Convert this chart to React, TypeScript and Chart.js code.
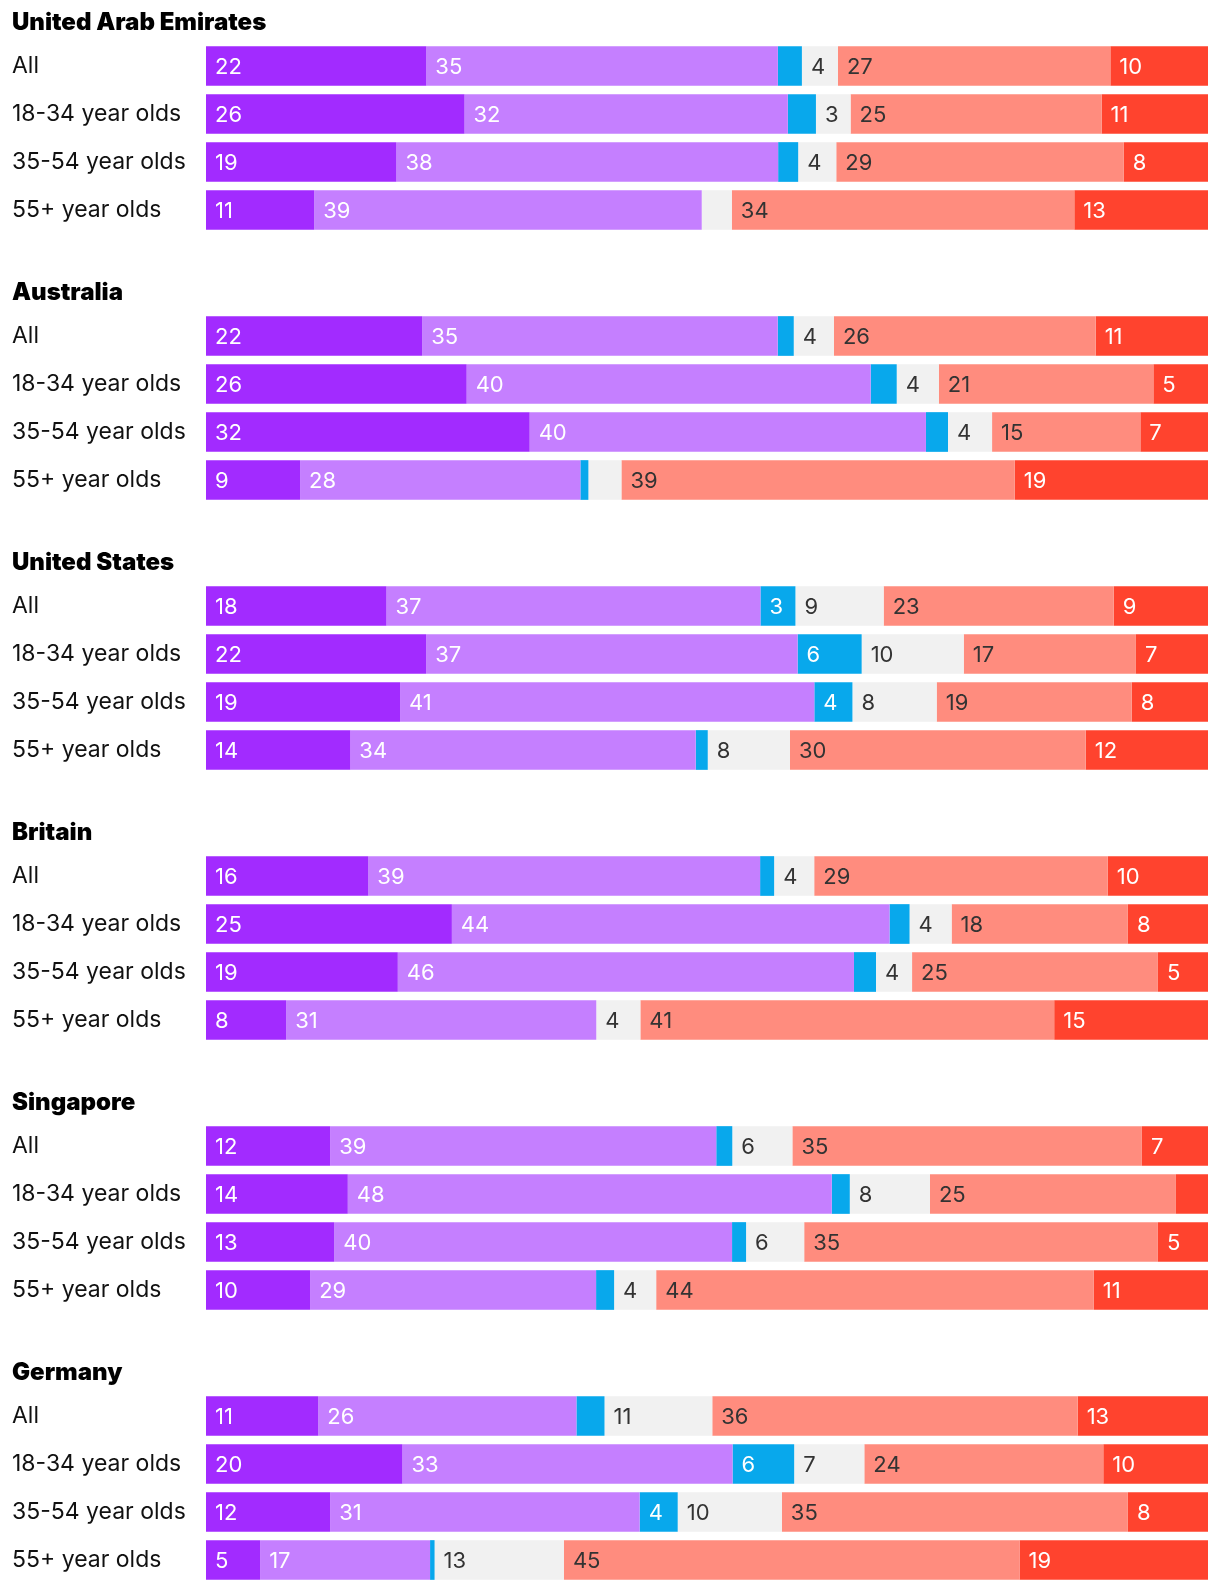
import React, { useEffect, useRef } from "react";
import { Chart, registerables } from "chart.js";

Chart.register(...registerables);

// ---- Data (percent shares) ----
const countries = [
  "United Arab Emirates",
  "Australia",
  "United States",
  "Britain",
  "Singapore",
  "Germany",
];

const ageGroups = ["All", "18-34 year olds", "35-54 year olds", "55+ year olds"];

// 24 values each: 4 age groups per country, countries in the order above
const darkPurpleValues = [
  22.0, 25.75, 19.0, 10.8,
  21.55, 26.0, 32.3, 9.4,
  18.0, 22.0, 19.35, 14.4,
  16.2, 24.55, 19.15, 8.0,
  12.4, 14.15, 12.8, 10.4,
  11.2, 19.6, 12.4, 5.4,
];
const lightPurpleValues = [
  35.1, 32.2, 38.1, 38.7,
  35.45, 40.3, 39.55, 28.0,
  37.3, 37.1, 41.3, 34.45,
  39.1, 43.7, 45.55, 30.95,
  38.55, 48.3, 39.7, 28.55,
  25.75, 32.95, 30.9, 16.95,
];
const blueValues = [
  2.4, 2.8, 2.0, 0,
  1.6, 2.6, 2.2, 0.8,
  3.49, 6.4, 3.8, 1.2,
  1.4, 2.0, 2.2, 0,
  1.6, 1.8, 1.4, 1.8,
  2.8, 6.15, 3.8, 0.45,
];
const grayValues = [
  3.6, 3.45, 3.8, 3.0,
  4.0, 4.2, 4.4, 3.3,
  8.8, 10.2, 8.4, 8.2,
  4.0, 4.2, 3.6, 4.4,
  6.0, 8.0, 5.8, 4.2,
  10.75, 7.0, 10.4, 12.9,
];
const salmonValues = [
  27.2, 25.0, 28.7, 34.2,
  26.1, 21.4, 14.8, 39.3,
  22.95, 17.2, 19.45, 29.5,
  29.3, 17.6, 24.55, 41.3,
  34.9, 24.55, 35.3, 43.7,
  36.45, 23.85, 34.55, 45.45,
];
const redValues = [
  9.75, 10.6, 8.4, 13.35,
  11.2, 5.45, 6.75, 19.3,
  9.4, 7.2, 7.6, 12.2,
  10.0, 8.0, 5.0, 15.35,
  6.6, 3.2, 5.0, 11.4,
  13.0, 10.45, 8.0, 18.8,
];

const seriesValues = [
  darkPurpleValues,
  lightPurpleValues,
  blueValues,
  grayValues,
  salmonValues,
  redValues,
];
const seriesColors = ["#A22BFF", "#C57FFF", "#08A8EC", "#F1F1F1", "#FF8C7E", "#FF432E"];
const labelColors = ["#FFFFFF", "#FFFFFF", "#FFFFFF", "#333333", "#333333", "#FFFFFF"];

const FONT = "Inter, 'Noto Sans', sans-serif";
const MIN_LABEL_VALUE = 3.4;

const valueLabelPlugin = {
  id: "valueLabels",
  afterDatasetsDraw(chart: any) {
    const ctx = chart.ctx;
    ctx.save();
    ctx.font = `400 22px ${FONT}`;
    ctx.textBaseline = "middle";
    ctx.textAlign = "left";
    chart.data.datasets.forEach((ds: any, di: number) => {
      const meta = chart.getDatasetMeta(di);
      meta.data.forEach((el: any, i: number) => {
        const raw = ds.rawValues[i];
        if (raw < MIN_LABEL_VALUE) return;
        const p = el.getProps(["x", "y", "base"], true);
        const left = Math.min(p.x, p.base);
        ctx.fillStyle = ds.labelColor;
        ctx.fillText(String(Math.round(raw)), left + 9, p.y + 1);
      });
    });
    ctx.restore();
  },
};

function CountryChart({ index }: { index: number }) {
  const ref = useRef<HTMLCanvasElement | null>(null);

  useEffect(() => {
    if (!ref.current) return;
    const rows = ageGroups.map((_, r) => index * 4 + r);
    const totals = rows.map((k) => seriesValues.reduce((s, arr) => s + arr[k], 0));
    const datasets = seriesValues.map((arr, si) => ({
      label: `Series ${si + 1}`,
      data: rows.map((k, r) => (arr[k] / totals[r]) * 100),
      rawValues: rows.map((k) => arr[k]),
      backgroundColor: seriesColors[si],
      labelColor: labelColors[si],
      borderWidth: 0,
      barPercentage: 0.827,
      categoryPercentage: 1,
    }));

    const chart = new Chart(ref.current, {
      type: "bar",
      data: { labels: ageGroups, datasets: datasets as any },
      options: {
        indexAxis: "y",
        responsive: false,
        animation: false,
        devicePixelRatio: 1,
        layout: { padding: { left: 12, right: 12, top: 0, bottom: 36 } },
        plugins: {
          legend: { display: false },
          tooltip: { enabled: false },
          title: {
            display: true,
            text: countries[index],
            align: "start",
            color: "#000000",
            font: { family: FONT, size: 24, weight: "900", lineHeight: 1 },
            padding: { top: 11, bottom: 7 },
          },
        },
        scales: {
          x: {
            stacked: true,
            min: 0,
            max: 100,
            display: false,
          },
          y: {
            stacked: true,
            grid: { display: false },
            border: { display: false },
            ticks: {
              crossAlign: "far",
              padding: 0,
              color: "#111111",
              font: { family: FONT, size: 23, weight: "400" },
            },
            afterFit: (scale: any) => {
              scale.width = 194;
            },
          },
        },
      } as any,
      plugins: [valueLabelPlugin],
    });
    return () => chart.destroy();
  }, [index]);

  return <canvas ref={ref} width={1220} height={270} style={{ display: "block" }} />;
}

export default function App() {
  return (
    <div style={{ position: "absolute", left: 0, top: 0, width: 1220, background: "#fff" }}>
      {countries.map((c, i) => (
        <CountryChart key={c} index={i} />
      ))}
    </div>
  );
}
